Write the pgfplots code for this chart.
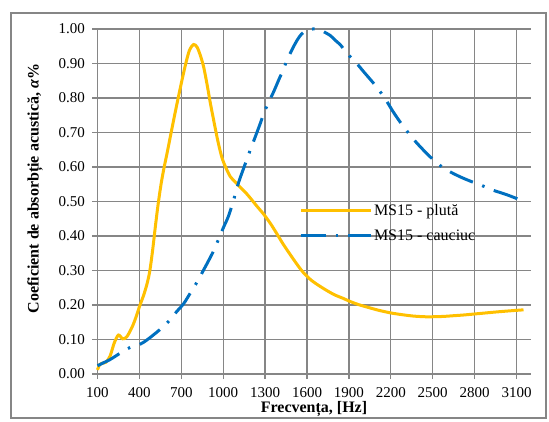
\documentclass[border=0pt]{standalone}
\usepackage{fontspec}
\setmainfont{Liberation Serif}
\usepackage{pgfplots}
\pgfplotsset{compat=1.18}
\definecolor{gridgray}{RGB}{134,134,134}
\definecolor{gold}{RGB}{255,192,0}
\definecolor{exblue}{RGB}{0,112,192}

\pgfplotstableread{
f a
100 0.012
115 0.027
130 0.031
160 0.034
190 0.052
220 0.090
250 0.113
280 0.102
310 0.108
350 0.138
380 0.170
400 0.195
430 0.228
455 0.262
475 0.300
495 0.360
515 0.430
535 0.495
555 0.550
575 0.595
597 0.638
620 0.685
645 0.736
675 0.795
705 0.852
735 0.905
760 0.940
788 0.955
812 0.948
835 0.925
860 0.890
885 0.838
908 0.785
932 0.735
955 0.688
975 0.652
995 0.622
1020 0.597
1051 0.572
1087 0.556
1123 0.541
1160 0.526
1194 0.510
1240 0.487
1290 0.463
1340 0.435
1385 0.406
1430 0.376
1480 0.346
1530 0.317
1576 0.293
1630 0.272
1690 0.255
1750 0.240
1800 0.229
1860 0.219
1910 0.210
1970 0.201
2030 0.194
2110 0.185
2200 0.177
2280 0.172
2360 0.168
2440 0.166
2510 0.166
2580 0.167
2650 0.169
2720 0.171
2800 0.174
2880 0.177
2960 0.180
3050 0.183
3150 0.186
}\pluta

\pgfplotstableread{
f a
100 0.024
140 0.032
186 0.041
230 0.052
280 0.065
329 0.076
370 0.082
408 0.087
445 0.096
484 0.108
530 0.123
570 0.137
608 0.152
663 0.179
717 0.204
765 0.235
812 0.266
855 0.298
896 0.329
935 0.360
967 0.391
1000 0.423
1039 0.459
1080 0.512
1110 0.555
1146 0.596
1190 0.645
1230 0.688
1266 0.727
1300 0.765
1361 0.818
1397 0.852
1430 0.882
1457 0.910
1500 0.946
1530 0.968
1560 0.985
1600 0.997
1640 1.000
1683 0.999
1720 0.992
1767 0.981
1800 0.968
1839 0.954
1890 0.928
1946 0.905
2006 0.876
2078 0.842
2120 0.820
2161 0.797
2209 0.765
2250 0.740
2293 0.716
2359 0.682
2424 0.653
2496 0.624
2567 0.600
2615 0.588
2699 0.571
2782 0.557
2854 0.546
2930 0.533
3021 0.521
3105 0.508
3150 0.500
}\cauciuc

\begin{document}
\begin{tikzpicture}
\useasboundingbox (-97.5pt,-47pt) rectangle (451.5pt,374pt);
\draw[gridgray, line width=1.2pt] (-86.5pt,-44pt) rectangle (448.5pt,361pt);
\begin{axis}[
  scale only axis, width=433pt, height=345pt,
  at={(0pt,0pt)}, anchor=south west,
  xmin=100, xmax=3200, ymin=0, ymax=1,
  xtick={100,400,...,3100},
  ytick={0,0.1,0.2,0.3,0.4,0.5,0.6,0.7,0.8,0.9,1},
  axis x line*=bottom, axis y line*=left,
  axis line style={gridgray, line width=1.3pt},
  tick align=outside, major tick length=5pt,
  tick style={gridgray, line width=1.3pt},
  grid=major,
  major grid style={gridgray, line width=1.3pt},
  /pgf/number format/assume math mode=true,
  tick label style={font=\fontsize{15}{18}\selectfont, text=black},
  yticklabel style={xshift=-4pt, /pgf/number format/.cd, fixed, fixed zerofill, precision=2},
  xticklabel style={yshift=-5pt, /pgf/number format/1000 sep={}},
  xlabel={Frecvența, [Hz]},
  ylabel={Coeficient de absorbție acustică, \textit{α}\%},
  label style={font=\bfseries\fontsize{16}{19}\selectfont},
  xlabel style={at={(axis description cs:0.5,-0.1)}, anchor=center},
  ylabel style={at={(axis description cs:-0.1443,0.5377)}, anchor=center},
  clip=false,
  legend cell align=left,
  legend style={draw=none, fill=none, at={(axis description cs:0.458,0.505)}, anchor=north west,
    font=\fontsize{16}{19}\selectfont, row sep=9pt},
  legend image code/.code={\draw[#1] (0pt,0pt) -- (70pt,0pt);},
]
\addplot[gold, line width=3pt, smooth, tension=0.5] table[x=f,y=a] {\pluta};
\addlegendentry{MS15 - plută}
\addplot[exblue, line width=3pt, smooth, tension=0.5, dash pattern=on 25pt off 10pt on 2.5pt off 10pt] table[x=f,y=a] {\cauciuc};
\addlegendentry{MS15 - cauciuc}
\end{axis}
\end{tikzpicture}
\end{document}
